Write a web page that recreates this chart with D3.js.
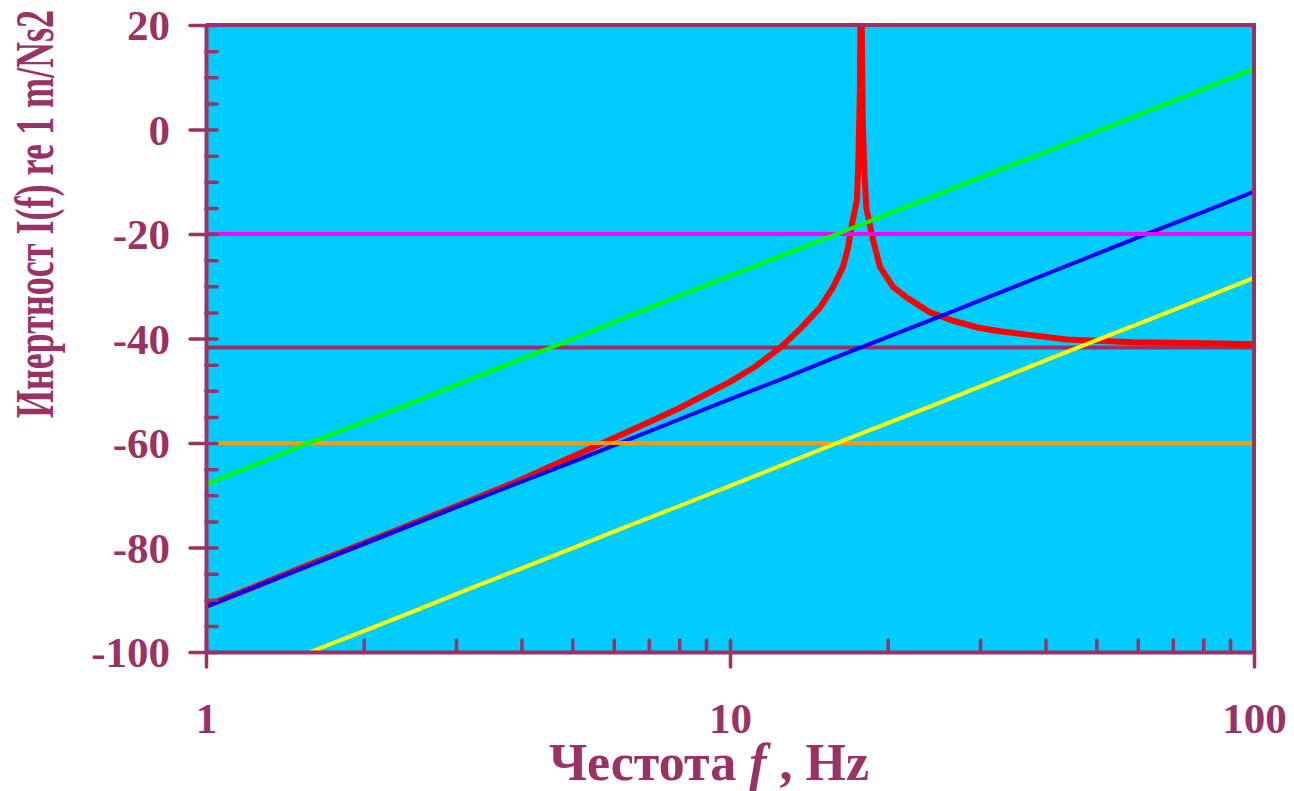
<!DOCTYPE html>
<html><head><meta charset="utf-8">
<script src="https://cdn.jsdelivr.net/npm/d3@7"></script>
<style>body{margin:0;background:#fff;overflow:hidden}</style>
</head><body><svg id="c" width="1294" height="791"></svg>
<script>
// ---- data ----
const freqs = [1,1.26,1.58,2,2.51,3.16,3.98,5.01,6.31,7.94,10,12.6,15.8,20,25.1,31.6,39.8,50.1,63.1,79.4,100];
const greenVals  = [-67.9,-63.9,-59.9,-56.0,-52.1,-48.0,-44.0,-40.1,-36.0,-32.0,-28.0,-24.1,-20.2,-16.2,-12.3,-8.3,-4.4,-0.4,3.6,7.6,11.6];
const blueVals   = [-91.3,-87.3,-83.4,-79.3,-75.4,-71.4,-67.5,-63.6,-59.6,-55.6,-51.6,-47.7,-43.7,-39.7,-35.8,-31.8,-27.8,-23.8,-19.8,-15.9,-11.9];
const yellowVals = [-107.9,-103.9,-100.0,-96.0,-92.1,-88.0,-84.1,-80.1,-76.1,-72.2,-68.2,-64.2,-60.2,-56.2,-52.3,-48.3,-44.3,-40.3,-36.4,-32.4,-28.4];
const redFreqs = [1,1.26,1.58,2,2.51,3.16,3.98,5.01,6.31,7.94,10,11.2,12.46,13.6,14.85,15.73,16.43,16.8,17.1,17.47,17.58,17.70,17.75,17.82,17.92,18.05,18.2,18.75,19.33,20.47,21.77,24.08,26.65,30,32.76,37.86,43.97,58.75,81.35,100];
const redVals  = [-91.2,-87.2,-83.2,-79.2,-75.2,-71.2,-67.1,-62.6,-58.1,-53.5,-48.3,-45.3,-41.8,-38.2,-34.1,-30.2,-26.3,-22.6,-18.0,-13.5,-6.0,8.0,25,25,2.0,-8.0,-15.0,-21.1,-26.3,-30.1,-32.2,-35.0,-36.6,-38.0,-38.6,-39.4,-40.2,-40.7,-40.9,-41.1];
const levelPurple = -41.7;
const levelMagenta = -20;
const levelOrange = -60;
const yTickValues = [-100,-80,-60,-40,-20,0,20];
const yMinorValues = [-95,-90,-85,-75,-70,-65,-55,-50,-45,-35,-30,-25,-15,-10,-5,5,10,15];
const xTickValues = [1,10,100];
const xMinorValues = [2,3,4,5,6,7,8,9,20,30,40,50,60,70,80,90];
const xTitle = ["Честота ", "f", " , Hz"];
const yTitle = "Инертност I(f) re 1 m/Ns2";

// ---- drawing ----
const L=206,R=1254,T=25,B=652;
const AX="#993366";
const FONT="'Liberation Serif','Times New Roman',serif";
const x=d3.scaleLog().domain([1,100]).range([L,R]);
const y=d3.scaleLinear().domain([-100,20]).range([B,T]);
const svg=d3.select("#c");

svg.append("rect").attr("x",L).attr("y",T).attr("width",R-L).attr("height",B-T).attr("fill","#00CCFF");
svg.append("clipPath").attr("id","clip").append("rect").attr("x",L).attr("y",T).attr("width",R-L).attr("height",B-T);
const plot=svg.append("g").attr("clip-path","url(#clip)");

const line=d3.line().x(d=>x(d[0])).y(d=>y(d[1]));
function hline(level,color,w){
  plot.append("path").attr("d",line([[1,level],[100,level]])).attr("stroke",color).attr("stroke-width",w).attr("fill","none");
}
function series(fs,vs,color,w){
  plot.append("path").attr("d",line(fs.map((f,i)=>[f,vs[i]]))).attr("stroke",color).attr("stroke-width",w)
    .attr("fill","none").attr("stroke-linejoin","round").attr("stroke-linecap","round");
}
hline(levelPurple,AX,4);
series(redFreqs,redVals,"#FF0000",6);
series(freqs,blueVals,"#0000FF",4);
hline(levelOrange,"#FF9900",4);
hline(levelMagenta,"#FF00FF",4);
series(freqs,greenVals,"#00FF00",4);
series(freqs,yellowVals,"#FFFF00",4);

// borders
svg.append("line").attr("x1",L).attr("x2",R+2).attr("y1",T).attr("y2",T).attr("stroke",AX).attr("stroke-width",4);
svg.append("line").attr("x1",R).attr("x2",R).attr("y1",T).attr("y2",B).attr("stroke",AX).attr("stroke-width",4);

const plain=d=>String(d);

// y axis
const gyMin=svg.append("g").attr("transform",`translate(${L},0)`)
  .call(d3.axisLeft(y).tickValues(yMinorValues).tickSize(-11).tickFormat(""));
gyMin.select(".domain").remove();
const gy=svg.append("g").attr("transform",`translate(${L},0)`)
  .call(d3.axisLeft(y).tickValues(yTickValues).tickSize(16).tickSizeOuter(0).tickFormat(plain));
gy.select(".domain").attr("stroke",AX).attr("stroke-width",4);
gy.selectAll(".tick line").attr("x1",11);
gy.selectAll(".tick text").attr("x",-36).attr("dy","0.34em");

// x axis
const gxMin=svg.append("g").attr("transform",`translate(0,${B})`)
  .call(d3.axisBottom(x).tickValues(xMinorValues).tickSize(-12).tickFormat(""));
gxMin.select(".domain").remove();
const gx=svg.append("g").attr("transform",`translate(0,${B})`)
  .call(d3.axisBottom(x).tickValues(xTickValues).tickSize(15).tickSizeOuter(0).tickFormat(plain));
gx.select(".domain").attr("stroke",AX).attr("stroke-width",4);
gx.selectAll(".tick line").attr("y1",-12);
gx.selectAll(".tick text").attr("y",81).attr("dy",0);

svg.selectAll(".tick line").attr("stroke",AX).attr("stroke-width",3.5).attr("stroke-linecap","round");
svg.selectAll(".tick text").attr("fill",AX).style("font-family",FONT).style("font-weight","bold").style("font-size","43px");

// titles
const xt=svg.append("text").attr("x",709).attr("y",780).attr("text-anchor","middle")
  .attr("fill",AX).style("font-family",FONT).style("font-weight","bold").style("font-size","52px");
xt.append("tspan").text(xTitle[0]);
xt.append("tspan").style("font-style","italic").text(xTitle[1]);
xt.append("tspan").text(xTitle[2]);

svg.append("text").attr("transform","translate(53,214) rotate(-90)").attr("text-anchor","middle")
  .attr("textLength",408).attr("lengthAdjust","spacingAndGlyphs")
  .attr("fill",AX).style("font-family",FONT).style("font-weight","bold").style("font-size","55px")
  .text(yTitle);
</script></body></html>
